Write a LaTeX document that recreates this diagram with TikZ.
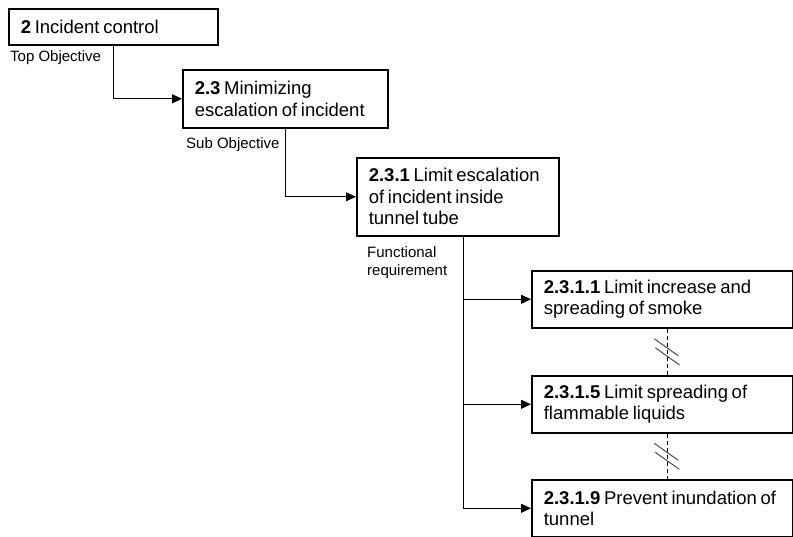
\documentclass[tikz,border=0pt]{standalone}
\usepackage{fontspec}
\setmainfont{Liberation Sans}
\usetikzlibrary{arrows.meta}

\newcommand{\breakmark}[1]{%
 \draw[breakline] ([shift={(-13,-13)}]#1) -- ++(24,17);%
 \draw[breakline] ([shift={(-12,-4)}]#1) -- ++(24,17);%
}

\begin{document}
\begin{tikzpicture}[x=1pt,y=-1pt,
  objbox/.style={draw,line width=1.6pt,anchor=north west,align=left,inner xsep=12pt,
    font=\fontsize{18.5}{21.5}\selectfont,
    execute at begin node={\spaceskip=0.2em plus 0.05em\relax}},
  tag/.style={anchor=west,align=left,inner sep=0pt,font=\fontsize{15}{18}\selectfont},
  link/.style={line width=0.9pt,-{Triangle[length=10pt,width=9pt]}},
  breakline/.style={line width=1pt,black!70}]
   \useasboundingbox (0,0) rectangle (793,537);
   % objectives
   \node[objbox,text width=185pt,minimum height=36pt] (b1) at (8,8) {\textbf{2} Incident control};
   \node[objbox,text width=181pt,minimum height=58pt] (b2) at (182,69) {\textbf{2.3} Minimizing\\escalation of incident};
   \node[objbox,text width=178pt,minimum height=78pt] (b3) at (356,157) {\textbf{2.3.1} Limit escalation\\of incident inside\\tunnel tube};
   \node[objbox,text width=237pt,minimum height=57pt] (b4) at (531,270) {\textbf{2.3.1.1} Limit increase and\\spreading of smoke};
   \node[objbox,text width=237pt,minimum height=57pt] (b5) at (531,375) {\textbf{2.3.1.5} Limit spreading of\\flammable liquids};
   \node[objbox,text width=237pt,minimum height=57pt] (b6) at (531,479) {\textbf{2.3.1.9} Prevent inundation of\\tunnel};
   % levels
   \node[tag] (t1) at (10,58) {Top Objective};
   \node[tag] (t2) at (186,145) {Sub Objective};
   \node[tag] (t3) at (367,263) {Functional\\requirement};
   % links
   \draw[link] (b1.south) |- (b2.west);
   \draw[link] (b2.south) |- (b3.west);
   \coordinate (tr) at ([xshift=6]b3.south);
   \draw[link] (tr) |- (b6.west);
   \draw[link] (tr |- b4.west) -- (b4.west);
   \draw[link] (tr |- b5.west) -- (b5.west);
   % skipped requirements
   \draw[line width=0.8pt,dash pattern=on 4pt off 3pt] ([xshift=5]b4.south) -- ([xshift=5]b5.north) coordinate[pos=0.5] (k1);
   \draw[line width=0.8pt,dash pattern=on 4pt off 3pt] ([xshift=5]b5.south) -- ([xshift=5]b6.north) coordinate[pos=0.5] (k2);
   \breakmark{k1}
   \breakmark{k2}
\end{tikzpicture}
\end{document}
